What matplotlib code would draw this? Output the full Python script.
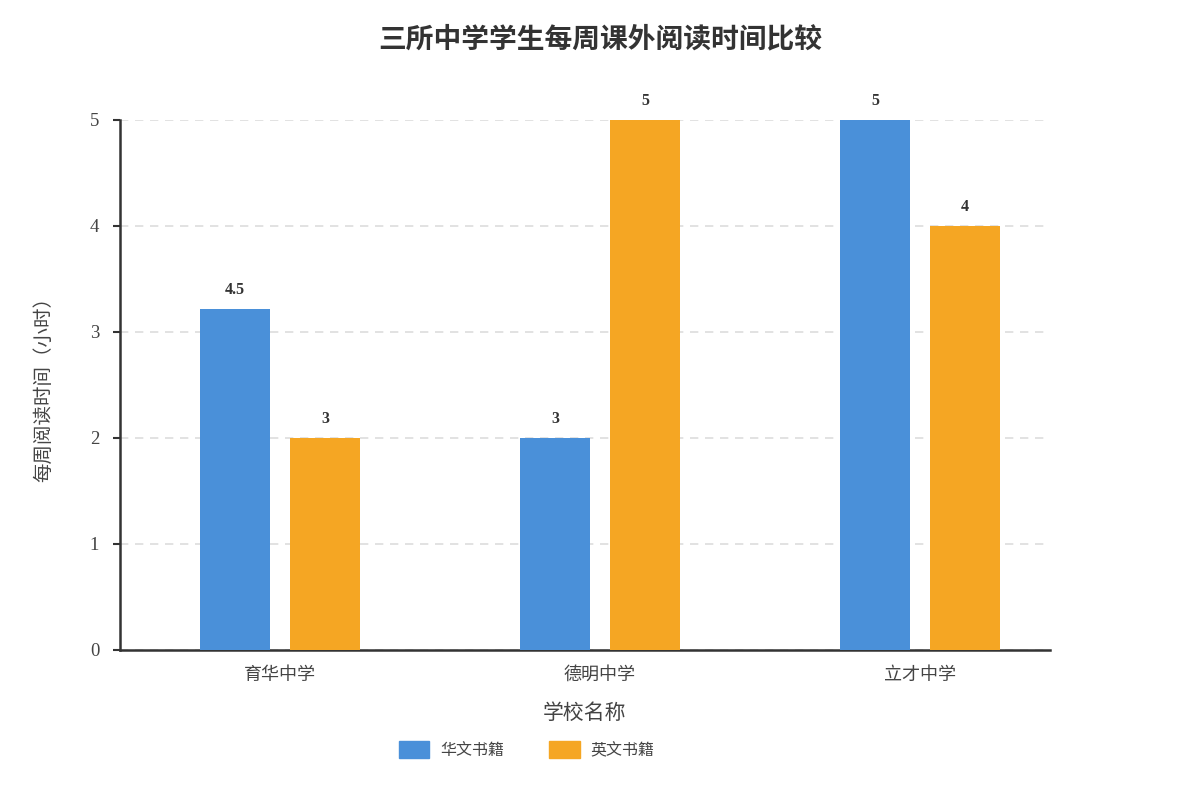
import numpy as np
import matplotlib
matplotlib.use("Agg")
import matplotlib.pyplot as plt
from matplotlib.patches import Patch

plt.rcParams['font.family'] = ['Liberation Serif', 'Noto Sans CJK SC', 'DejaVu Sans']

# data
schools = ["育华中学", "德明中学", "立才中学"]
series_names = ["华文书籍", "英文书籍"]
chinese_heights = [3.22, 2, 5]
english_heights = [2, 5, 4]
chinese_labels = ["4.5", "3", "5"]
english_labels = ["3", "5", "4"]
yticks = [0, 1, 2, 3, 4, 5]

blue = "#4A90D9"
orange = "#F5A623"

fig = plt.figure(figsize=(12, 8), dpi=100)
ax = fig.add_axes([0.1, 0.1875, 0.775, 0.6625])

x = np.arange(len(schools))
w = 0.21875
off = 0.140625
b1 = ax.bar(x - off, chinese_heights, w, color=blue, zorder=3)
b2 = ax.bar(x + off, english_heights, w, color=orange, zorder=3)

for bars, labels in ((b1, chinese_labels), (b2, english_labels)):
    for r, lab in zip(bars, labels):
        ax.annotate(lab, (r.get_x() + r.get_width() / 2, r.get_height()),
                    xytext=(0, 8), textcoords="offset points",
                    ha="center", va="bottom", fontsize=11.5, fontweight="bold",
                    color="#333333", annotation_clip=False)

ax.set_xlim(-0.5, 2.40625)
ax.set_ylim(0, 5)
ax.set_yticks(yticks)
ax.set_xticks(x)
ax.set_xticklabels(schools, fontsize=13, color="#444444")
ax.tick_params(axis="y", labelsize=13.5, labelcolor="#444444", length=5,
               width=1.5, color="#333333", pad=10)
ax.tick_params(axis="x", length=0, pad=12)

ax.grid(axis="y", linestyle=(0, (5, 4)), color="#dddddd", linewidth=1.2, zorder=0)
for s in ("top", "right"):
    ax.spines[s].set_visible(False)
for s in ("left", "bottom"):
    ax.spines[s].set_linewidth(1.8)
    ax.spines[s].set_color("#333333")

ax.set_xlabel("学校名称", fontsize=15, color="#444444", labelpad=15)
ax.set_ylabel("每周阅读时间（小时）", fontsize=14, color="#444444")
ax.yaxis.set_label_coords(-0.072, 0.5)

fig.text(0.5, 0.95, "三所中学学生每周课外阅读时间比较", ha="center", va="center",
         fontsize=20, fontweight="bold", color="#333333")

handles = [Patch(color=blue), Patch(color=orange)]
fig.legend(handles, series_names, loc="center", bbox_to_anchor=(0.439, 0.0625),
           ncol=2, frameon=False, fontsize=11.5, handlelength=1.9, handleheight=1.25,
           columnspacing=2.8, handletextpad=0.7, labelcolor="#444444")

fig.savefig("out.png", dpi=100)
